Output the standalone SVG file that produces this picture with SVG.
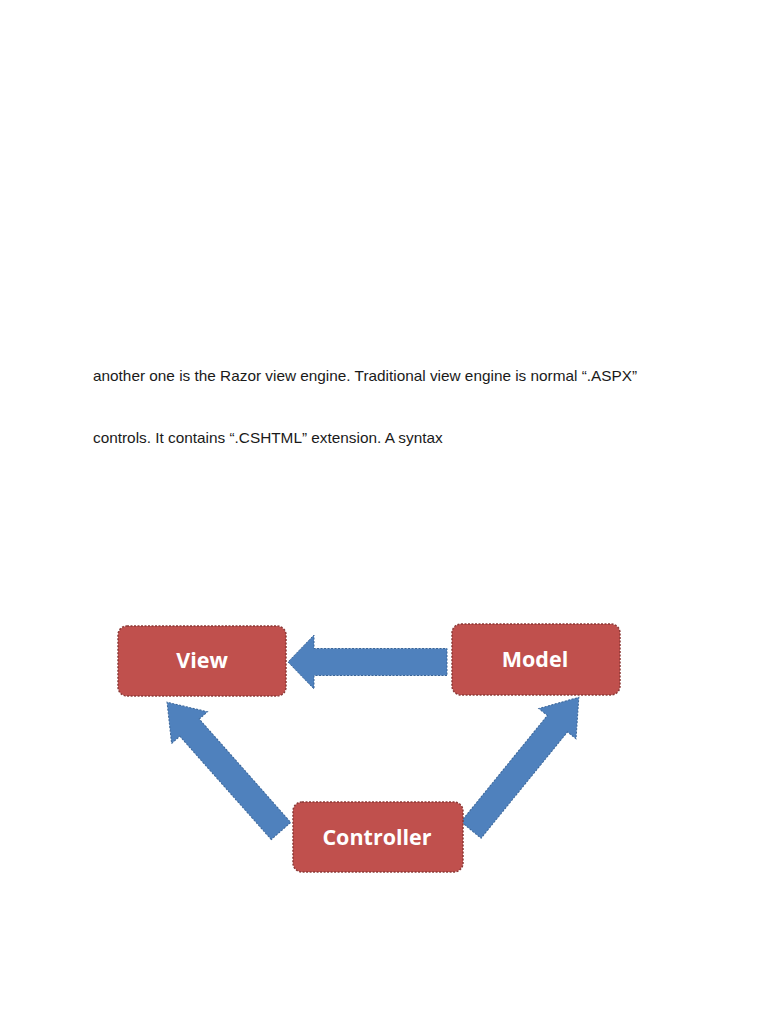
<svg xmlns="http://www.w3.org/2000/svg" width="768" height="1024" viewBox="0 0 768 1024">
<style>
.body{font-family:"Liberation Sans",Arial,sans-serif;font-size:15.35px;fill:#1a1a1a}
.box{fill:#c0504d;stroke:#8c3836;stroke-width:1.5;stroke-dasharray:2 1.5}
.lbl{font-family:"Open Sans","Noto Sans",sans-serif;font-weight:bold;font-size:21.5px;fill:#ffffff;text-anchor:middle}
.arr{fill:#4f81bd;stroke:#3a6598;stroke-width:1;stroke-dasharray:2 1.5}
</style>
<rect width="768" height="1024" fill="#ffffff"/>
<text class="body" x="93" y="381">another one is the Razor view engine. Traditional view engine is normal “.ASPX”</text>
<text class="body" x="93" y="443">controls. It contains “.CSHTML” extension. A syntax</text>
<g id="connectors">
<path class="arr" transform="translate(447,662) rotate(180)" d="M0,-13.5 L133,-13.5 L133,-27 L159,0 L133,27 L133,13.5 L0,13.5 Z"/>
<path class="arr" transform="translate(281,831) rotate(-131.5)" d="M0,-13 L138,-13 L138,-24 L172,0 L138,24 L138,13 L0,13 Z"/>
<path class="arr" transform="translate(471,830) rotate(-50.9)" d="M0,-13 L137,-13 L137,-24 L171,0 L137,24 L137,13 L0,13 Z"/>
</g>
<g id="view">
<rect class="box" x="118" y="626" width="168" height="70" rx="9"/>
<text class="lbl" x="202" y="668">View</text>
</g>
<g id="model">
<rect class="box" x="452" y="624" width="168" height="71" rx="9"/>
<text class="lbl" x="535" y="667">Model</text>
</g>
<g id="controller">
<rect class="box" x="293" y="802" width="170" height="70" rx="9"/>
<text class="lbl" x="377" y="845">Controller</text>
</g>
</svg>
